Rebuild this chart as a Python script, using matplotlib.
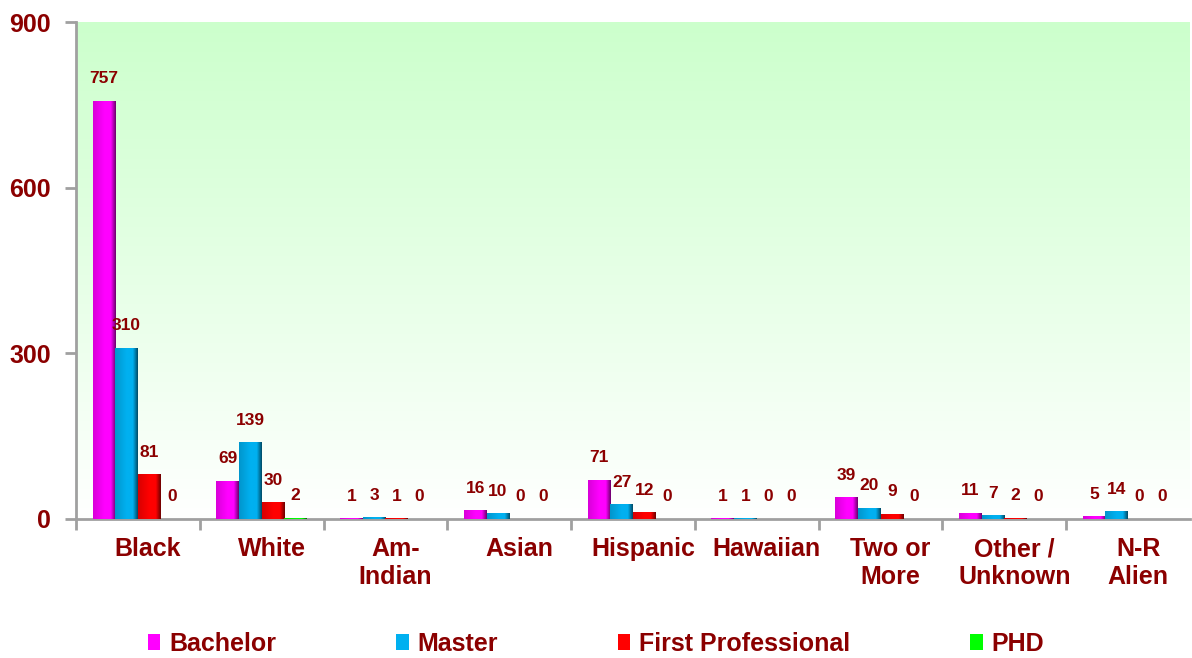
import matplotlib
matplotlib.use("Agg")
import matplotlib.pyplot as plt
import matplotlib.transforms as mtransforms
from matplotlib.patches import Patch
from matplotlib.colors import to_rgb
import numpy as np

plt.rcParams['font.family'] = ['Liberation Sans', 'DejaVu Sans']
plt.rcParams['font.weight'] = 'bold'

# data
categories = ["Black", "White", "Am-\nIndian", "Asian", "Hispanic", "Hawaiian",
              "Two or\nMore", "Other /\nUnknown", "N-R\nAlien"]
bachelor = [757, 69, 1, 16, 71, 1, 39, 11, 5]
master = [310, 139, 3, 10, 27, 1, 20, 7, 14]
first_prof = [81, 30, 1, 0, 12, 0, 9, 2, 0]
phd = [0, 2, 0, 0, 0, 0, 0, 0, 0]
series_names = ["Bachelor", "Master", "First Professional", "PHD"]
yticks = [0, 300, 600, 900]

colors = ["#ff00ff", "#00b0f0", "#ff0000", "#00ff00"]
dark = "#8b0000"
grey = "#a0a0a0"

fig = plt.figure(figsize=(11.92, 6.58), dpi=100)
ax = fig.add_axes([76 / 1192, 139 / 658, 1114 / 1192, 497 / 658])

x = np.arange(len(categories))
w = 0.183

# green-to-white background
grad = np.linspace(0, 1, 256)[:, None, None]
top = np.array(to_rgb("#ccffcc"))
bg = (1 - grad) * np.ones(3) + grad * top
ax.imshow(bg, extent=[-0.5, 8.5, 0, 900], aspect='auto', origin='lower', zorder=0)


def shade(c):
    # horizontal bevel look: bright left/middle, dark right edge
    base = np.array(to_rgb(c))
    t = np.linspace(0, 1, 64)
    f = np.where(t < 0.5, 0.85 + 0.3 * t, np.where(t < 0.78, 1.0, 1.0 - 2.6 * (t - 0.78)))
    f = np.clip(f, 0.35, 1.0)
    row = base[None, :] * f[:, None]
    return row[None, :, :]


all_series = [bachelor, master, first_prof, phd]
for i, (vals, c) in enumerate(zip(all_series, colors)):
    pos = x + (i - 1.5) * w
    bars = ax.bar(pos, vals, w, color=c, zorder=2, linewidth=0)
    img = shade(c)
    for b, v in zip(bars, vals):
        if v > 0:
            im = ax.imshow(img, extent=[b.get_x(), b.get_x() + w, 0, v],
                           aspect='auto', zorder=3)
            im.set_clip_path(b)
        ax.annotate(str(v), (b.get_x() + w / 2, v), xytext=(0, 10.5),
                    textcoords='offset points', ha='center', va='bottom',
                    fontsize=12.5, color=dark, fontweight='bold', zorder=5)

ax.set_xlim(-0.5, 8.5)
ax.set_ylim(0, 900)

for s in ['top', 'right']:
    ax.spines[s].set_visible(False)
for s in ['left', 'bottom']:
    ax.spines[s].set_color(grey)
    ax.spines[s].set_linewidth(2)

ax.set_yticks(yticks)
ax.tick_params(axis='y', length=8, width=2, color=grey, pad=10,
               labelsize=18, labelcolor=dark)

ax.set_xticks(np.arange(-0.5, 8.0, 1.0))
ax.set_xticklabels([])
ax.tick_params(axis='x', which='major', length=8, width=2, color=grey)
ax.set_xticks(x, minor=True)
ax.set_xticklabels(categories, minor=True)
ax.tick_params(axis='x', which='minor', length=0, pad=13, labelsize=18, labelcolor=dark)
shift = mtransforms.ScaledTranslation(10 / 100, 0, fig.dpi_scale_trans)
for lab in ax.get_xticklabels(minor=True):
    lab.set_transform(lab.get_transform() + shift)
    lab.set_linespacing(1.2)
    lab.set_fontweight('bold')
for lab in ax.get_yticklabels():
    lab.set_fontweight('bold')

handles = [Patch(facecolor=c, edgecolor='none') for c in colors]
fig.legend(handles, series_names, loc='center', bbox_to_anchor=(0.5, 14 / 658),
           ncol=4, frameon=False, fontsize=18, labelcolor=dark,
           columnspacing=4.8, handlelength=0.5, handleheight=0.6, handletextpad=0.35)

fig.savefig("out.png", dpi=100)
